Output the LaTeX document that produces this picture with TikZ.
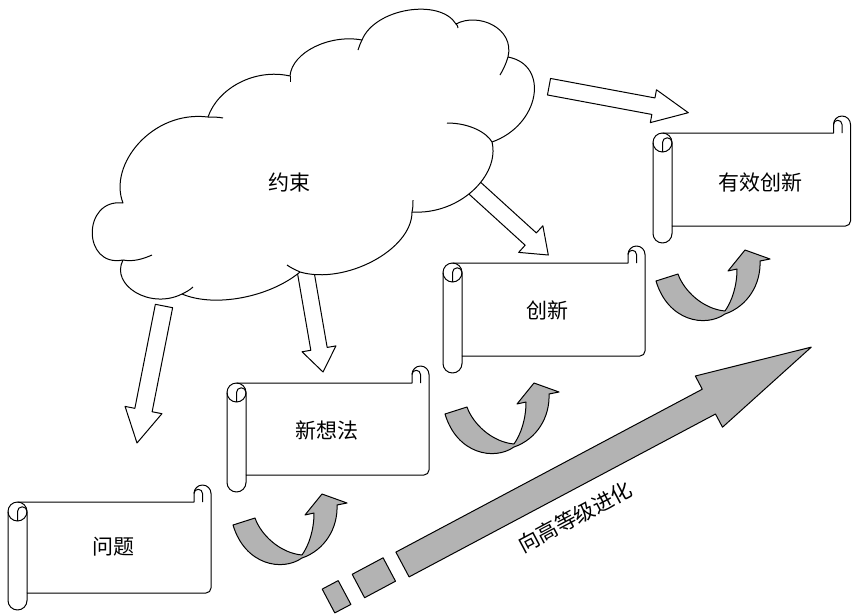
\documentclass[tikz,border=0pt]{standalone}
\usepackage{fontspec}
\newfontfamily\cjk{Noto Sans CJK SC}
\usetikzlibrary{calc}
\definecolor{arrgray}{RGB}{179,179,179}
\tikzset{
  outl/.style={draw=black, line width=1pt, line join=round},
  scrollline/.style={outl, fill=white},
  blk/.style={outl, fill=white},
  garrow/.style={outl, fill=arrgray},
  lbl/.style={font=\cjk\fontsize{21}{24}\selectfont, inner sep=0pt},
}
\newcommand{\scrollshape}[4]{%
  \filldraw[scrollline] ({#1+9.5},#2) -- ({#3-17},#2) -- ({#3-17},{#2-8.5})
     arc[start angle=180,end angle=0,radius=8.5pt] -- (#3,{#4-5})
     arc[start angle=0,end angle=-90,radius=5pt] -- ({#1+19},#4) -- ({#1+19},{#4+7.5})
     arc[start angle=0,end angle=-180,radius=9.5pt] -- (#1,{#2+9.5})
     arc[start angle=180,end angle=90,radius=9.5pt] -- cycle;
  \draw[outl] ({#1+9.5},#2) arc[start angle=90,end angle=0,radius=9.5pt] -- ({#1+19},#4);
  \draw[outl] (#1,{#2+9.5}) arc[start angle=180,end angle=360,radius=9.5pt];
  \draw[outl] ({#1+9.5},{#2+19}) -- ({#1+9.5},{#2+9.5}) arc[start angle=180,end angle=0,radius=4.75pt];
  \draw[outl] ({#3-8.5},#2) -- ({#3-8.5},{#2-8.5}) arc[start angle=0,end angle=180,radius=4.25pt];
}
% start, tip, shaft half width, head half width, head length
\newcommand{\blockarrow}[5]{%
  \coordinate (hb) at ($(#2)!#5pt!(#1)$);
  \filldraw[blk] ($(#1)!#3pt!90:(#2)$) -- ($(hb)!#3pt!90:(#2)$) -- ($(hb)!#4pt!90:(#2)$)
    -- (#2) -- ($(hb)!#4pt!-90:(#2)$) -- ($(hb)!#3pt!-90:(#2)$) -- ($(#1)!#3pt!-90:(#2)$) -- cycle;
}
\newcommand{\curvedarrow}{%
  \filldraw[garrow] (8,45) -- (30,38) .. controls (36,55) and (55,73) .. (77,75)
    .. controls (84,65) and (89,50) .. (89,33) -- (80,35) -- (97,14) -- (122,23) -- (112,25)
    .. controls (113,48) and (100,70) .. (77,78) .. controls (57,92) and (20,85) .. (8,45) -- cycle;
}
\begin{document}
\begin{tikzpicture}[x=1pt,y=-1pt]
\useasboundingbox (0,0) rectangle (852,614);
% arrows hidden partly under the cloud
\coordinate (bS) at (305,268); \coordinate (bT) at (323,372);
\coordinate (cS) at (468,182); \coordinate (cT) at (548.3,255);
\blockarrow{bS}{bT}{8.3}{17.2}{23.5}
\blockarrow{cS}{cT}{8.3}{18}{23.7}
% cloud
\filldraw[outl, fill=white] (123,260) .. controls (82,268) and (82,198) .. (123,203)
  .. controls (108,165) and (152,110) .. (208,117)
  .. controls (218,88) and (255,68) .. (290,76)
  .. controls (292,52) and (330,34) .. (362,40)
  .. controls (375,8) and (440,-2) .. (456,24)
  .. controls (478,12) and (515,28) .. (508,57)
  .. controls (550,65) and (540,125) .. (492,142)
  .. controls (500,175) and (460,215) .. (412,212)
  .. controls (412,250) and (345,285) .. (300,272)
  .. controls (270,297) and (215,308) .. (182,294)
  .. controls (150,310) and (110,285) .. (123,260) -- cycle;
\draw[outl] (123,260) .. controls (133,262) and (143,259) .. (152,255);
\draw[outl] (208,117) .. controls (213,117) and (218,117) .. (223,118);
\draw[outl] (290,76) -- (290,82);
\draw[outl] (362,40) .. controls (360,44) and (359,47) .. (358,50);
\draw[outl] (456,24) .. controls (457,25) and (458,26) .. (458,28);
\draw[outl] (508,57) .. controls (506,64) and (503,70) .. (500,75);
\draw[outl] (492,142) .. controls (487,133) and (470,123) .. (447,123);
\draw[outl] (412,212) .. controls (413,208) and (413,204) .. (413,200);
\draw[outl] (300,272) .. controls (296,270) and (291,268) .. (287,265);
\draw[outl] (182,294) .. controls (186,292) and (190,290) .. (193,287);
\node[lbl] (cloud) at (289,183) {约束};
% other block arrows
\coordinate (aS) at (164,306); \coordinate (aT) at (137,443);
\coordinate (dS) at (549,86.7); \coordinate (dT) at (688.3,112.7);
\blockarrow{aS}{aT}{8.8}{18.8}{33.6}
\blockarrow{dS}{dT}{8.4}{16.7}{35.5}
% scrolls
\scrollshape{8}{502}{211}{593}
\node[lbl] (s1) at (113,547) {问题};
\scrollshape{227}{383}{429}{475}
\node[lbl] (s2) at (327,430) {新想法};
\scrollshape{443}{263}{645}{356}
\node[lbl] (s3) at (547,310) {创新};
\scrollshape{653}{133}{850.5}{226}
\node[lbl] (s4) at (760,183) {有效创新};
% curved arrows
\begin{scope}[shift={(225,480)}]\curvedarrow\end{scope}
\begin{scope}[shift={(437,369)}]\curvedarrow\end{scope}
\begin{scope}[shift={(648,236)}]\curvedarrow\end{scope}
% big arrow
\filldraw[garrow] (395.9,552.1) -- (702.3,389.2) -- (695.3,376.0) -- (811.3,347.1)
  -- (722.5,427.2) -- (715.5,414.0) -- (409.1,576.9) -- cycle;
\filldraw[garrow] (383.1,557.8) -- (352.2,574.3) -- (364.6,597.7) -- (395.5,581.2) -- cycle;
\filldraw[garrow] (338.2,580.6) -- (322.2,589.1) -- (334.8,612.9) -- (350.9,604.4) -- cycle;
\node[lbl, rotate=28] (evo) at (575,517) {向高等级进化};
\end{tikzpicture}
\end{document}
